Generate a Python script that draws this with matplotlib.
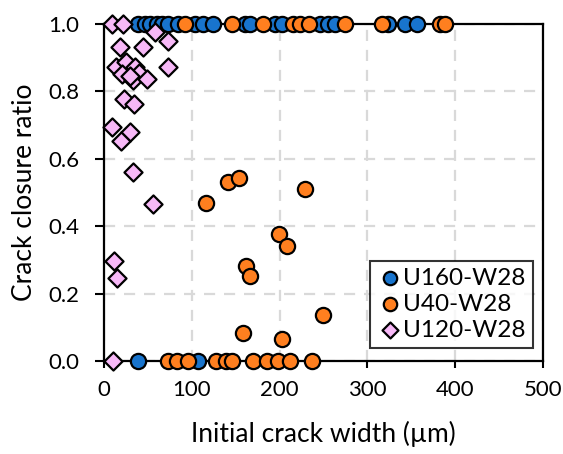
import matplotlib
matplotlib.use("Agg")
import matplotlib.pyplot as plt

plt.rcParams['font.family'] = ['Lato', 'DejaVu Sans']

# U160-W28 (blue)
u160_x = [39, 47, 52, 60, 66, 73, 84, 104, 113, 124, 161, 166, 195, 203,
          246, 255, 263, 323, 343, 356,
          39, 107]
u160_y = [1.0] * 20 + [0.0, 0.0]

# U40-W28 (orange)
u40_x = [92, 146, 181, 215, 223, 233, 274, 317, 383, 388,
         73, 83, 96, 128, 139, 146, 170, 186, 198, 212, 237,
         141, 154, 116, 229, 199, 209, 162, 166, 250, 158, 203]
u40_y = [1.0] * 10 + [0.0] * 11 + [0.531, 0.543, 0.469, 0.51, 0.377, 0.341,
                                   0.282, 0.252, 0.136, 0.083, 0.065]

# U120-W28 (pink)
u120_x = [9, 22, 58, 73, 18, 44, 73, 14, 25, 35, 20, 40, 33, 49, 30,
          23, 34, 9, 30, 19, 33, 56, 11, 15, 10]
u120_y = [1.0, 1.0, 0.976, 0.95, 0.932, 0.932, 0.872, 0.872, 0.887, 0.872,
          0.852, 0.855, 0.834, 0.837, 0.845, 0.777, 0.763, 0.694, 0.68,
          0.653, 0.561, 0.466, 0.297, 0.246, 0.0]

labels = ['U160-W28', 'U40-W28', 'U120-W28']
x_ticks = [0, 100, 200, 300, 400, 500]
y_ticks = [0.0, 0.2, 0.4, 0.6, 0.8, 1.0]

fig = plt.figure(figsize=(5.63, 4.54), dpi=100)
ax = fig.add_axes([0.1847, 0.2048, 0.7798, 0.7422])

kw = dict(edgecolor='black', linewidths=1.6, clip_on=False, zorder=3)
ax.scatter(u160_x, u160_y, s=120, marker='o', facecolor='#1874CD', label=labels[0], **kw)
ax.scatter(u40_x, u40_y, s=120, marker='o', facecolor='#FF7F1F', label=labels[1], **kw)
ax.scatter(u120_x, u120_y, s=85, marker='D', facecolor='#F7B8F7', label=labels[2], **kw)

ax.set_xlim(0, 500)
ax.set_ylim(0, 1.0)
ax.set_xticks(x_ticks)
ax.set_yticks(y_ticks)
ax.set_yticklabels([f'{v:.1f}' for v in y_ticks])
ax.tick_params(axis='both', labelsize=16, direction='out', width=1.5, colors='black')
ax.tick_params(axis='x', length=5, pad=9)
ax.tick_params(axis='y', length=6.5, pad=11)
for sp in ax.spines.values():
    sp.set_linewidth(1.6)
    sp.set_color('black')
ax.grid(True, color='#d9d9d9', linestyle=(0, (5, 4)), linewidth=1.6, zorder=0)
ax.set_axisbelow(True)

ax.set_xlabel('Initial crack width (µm)', fontsize=19, labelpad=15)
ax.set_ylabel('Crack closure ratio', fontsize=19, labelpad=8)

leg = ax.legend(loc='lower right', fontsize=17.5, frameon=True, fancybox=False,
                edgecolor='black', handletextpad=0.05, borderpad=0.3,
                labelspacing=0.2, handlelength=1.0, markerscale=0.88,
                borderaxespad=0, bbox_to_anchor=(0.977, 0.039))
leg.get_frame().set_linewidth(1.5)

fig.savefig('out.png', dpi=100)
